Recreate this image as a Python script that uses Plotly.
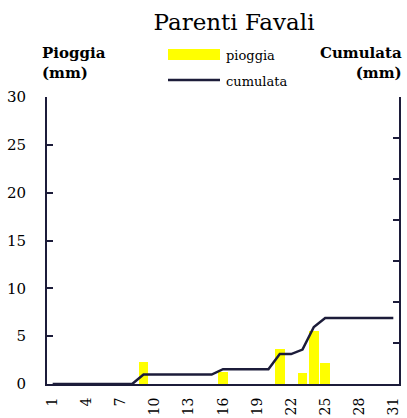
import plotly.graph_objects as go

days = list(range(1, 32))
pioggia = [0, 0, 0, 0, 0, 0, 0, 0, 2.3, 0, 0, 0, 0, 0, 0, 1.3, 0, 0, 0, 0,
           3.7, 0, 1.1, 5.5, 2.2, 0, 0, 0, 0, 0, 0]
cumulata = [0, 0, 0, 0, 0, 0, 0, 0, 2.3, 2.3, 2.3, 2.3, 2.3, 2.3, 2.3, 3.6, 3.6, 3.6, 3.6, 3.6,
            7.3, 7.3, 8.4, 13.9, 16.1, 16.1, 16.1, 16.1, 16.1, 16.1, 16.1]
xticks = [1, 4, 7, 10, 13, 16, 19, 22, 25, 28, 31]

W, H = 407, 418
L, R, T, B = 47, 8, 97, 34
PW, PH = W - L - R, H - T - B
def px(x):
    return (x - L) / PW
def py(y):
    return (H - B - y) / PH

FONT = "DejaVu Serif"
AX = "#1c1c3a"

fig = go.Figure()
fig.add_trace(go.Bar(x=days, y=pioggia, width=0.85, marker=dict(color="#FFFF00", line=dict(width=0)),
                     name="pioggia", showlegend=False))
fig.add_trace(go.Scatter(x=days, y=cumulata, yaxis="y2", mode="lines",
                         line=dict(color=AX, width=2.5), name="cumulata", showlegend=False))

fig.update_layout(
    width=W, height=H, margin=dict(l=L, r=R, t=T, b=B),
    paper_bgcolor="white", plot_bgcolor="white",
    font=dict(family=FONT, size=14, color="black"),
    title=dict(text="Parenti Favali", x=234 / W, xanchor="center", y=1 - 22 / H, yanchor="middle",
               font=dict(family=FONT, size=23, color="black")),
    xaxis=dict(range=[0.5, 31.5], tickmode="array", tickvals=xticks, ticktext=[str(v) for v in xticks],
               tickangle=-90, showgrid=False, zeroline=False, showline=True, linecolor=AX, linewidth=2,
               ticks="", ticklabelstandoff=6, tickfont=dict(size=14), automargin=False),
    yaxis=dict(range=[0, 30], dtick=5, showgrid=False, zeroline=False, showline=True, linecolor=AX,
               linewidth=2, ticks="inside", ticklen=6, tickcolor=AX, tickwidth=2,
               ticklabelstandoff=16, tickfont=dict(size=15), automargin=False),
    yaxis2=dict(range=[0, 70], dtick=10, overlaying="y", side="right", showgrid=False, zeroline=False,
                showline=True, linecolor=AX, linewidth=2, ticks="inside", ticklen=6, tickcolor=AX,
                tickwidth=2, showticklabels=False, automargin=False),
    bargap=0,
)

# legend (manual)
fig.add_shape(type="rect", xref="paper", yref="paper", x0=px(168), x1=px(220), y0=py(60), y1=py(49),
              fillcolor="#FFFF00", line=dict(width=0))
fig.add_shape(type="line", xref="paper", yref="paper", x0=px(168), x1=px(220), y0=py(80), y1=py(80),
              line=dict(color=AX, width=2.5))
fig.add_annotation(xref="paper", yref="paper", x=px(224), y=py(55), text="pioggia", showarrow=False,
                   xanchor="left", yanchor="middle", font=dict(size=13))
fig.add_annotation(xref="paper", yref="paper", x=px(224), y=py(81), text="cumulata", showarrow=False,
                   xanchor="left", yanchor="middle", font=dict(size=13))

# axis titles
fig.add_annotation(xref="paper", yref="paper", x=px(40), y=py(63), text="<b>Pioggia<br>(mm)</b>",
                   showarrow=False, xanchor="left", yanchor="middle", align="left", font=dict(size=15))
fig.add_annotation(xref="paper", yref="paper", x=px(404), y=py(63), text="<b>Cumulata<br>(mm)</b>",
                   showarrow=False, xanchor="right", yanchor="middle", align="right", font=dict(size=15))

fig.write_html("out.html", config={"displayModeBar": False},
               post_script="document.body.style.margin='0';")
